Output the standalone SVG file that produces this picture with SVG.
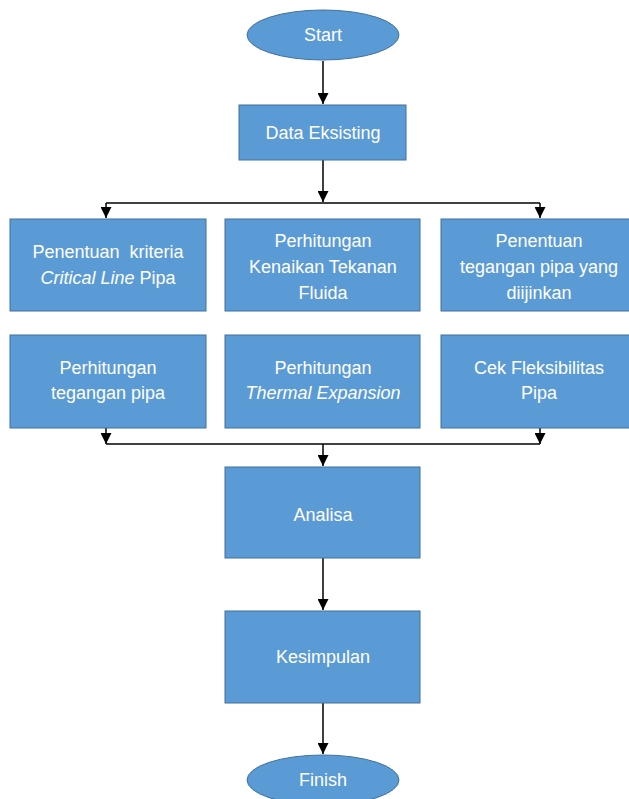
<svg xmlns="http://www.w3.org/2000/svg" width="629" height="799" viewBox="0 0 629 799">
<defs>
<marker id="ah" markerWidth="11" markerHeight="11" refX="11" refY="5.5" orient="auto" markerUnits="userSpaceOnUse">
<path d="M0,0 L11,5.5 L0,11 z" fill="#000"/>
</marker>
<style>
.n{fill:#5B9BD5;stroke:#41719C;stroke-width:1}
.t{font-family:"Liberation Sans",Arial,sans-serif;font-size:18px;fill:#fff;text-anchor:middle}
.i{font-style:italic}
.c{fill:none;stroke:#000;stroke-width:1.5}
</style>
</defs>
<rect width="629" height="799" fill="#fff"/>
<g id="connectors">
<path class="c" d="M323,61 V104" marker-end="url(#ah)"/>
<path class="c" d="M323,160 V202"  marker-end="url(#ah)"/>
<path class="c" d="M106,203 H540"/>
<path class="c" d="M106,203 V218" marker-end="url(#ah)"/>
<path class="c" d="M540,203 V218" marker-end="url(#ah)"/>
<path class="c" d="M106,428 V444" marker-end="url(#ah)"/>
<path class="c" d="M540,428 V444" marker-end="url(#ah)"/>
<path class="c" d="M106,444 H540"/>
<path class="c" d="M323,444 V466" marker-end="url(#ah)"/>
<path class="c" d="M323,558 V610" marker-end="url(#ah)"/>
<path class="c" d="M323,703 V754" marker-end="url(#ah)"/>
</g>
<g id="start"><ellipse class="n" cx="323" cy="35" rx="76" ry="25"/><text class="t" x="323" y="41">Start</text></g>
<g id="data"><rect class="n" x="239" y="105" width="167" height="55"/><text class="t" x="323" y="139">Data Eksisting</text></g>
<g id="kriteria"><rect class="n" x="10" y="219" width="196" height="92"/>
<text class="t" x="108" y="258">Penentuan&#160; kriteria</text>
<text class="t" x="108" y="284"><tspan class="i">Critical Line</tspan> Pipa</text></g>
<g id="kenaikan"><rect class="n" x="225" y="219" width="195" height="92"/>
<text class="t" x="323" y="247">Perhitungan</text>
<text class="t" x="323" y="273">Kenaikan Tekanan</text>
<text class="t" x="323" y="299">Fluida</text></g>
<g id="diijinkan"><rect class="n" x="441" y="219" width="196" height="92"/>
<text class="t" x="539" y="247">Penentuan</text>
<text class="t" x="539" y="273">tegangan pipa yang</text>
<text class="t" x="539" y="299">diijinkan</text></g>
<g id="tegangan"><rect class="n" x="10" y="335" width="196" height="93"/>
<text class="t" x="108" y="374">Perhitungan</text>
<text class="t" x="108" y="399">tegangan pipa</text></g>
<g id="thermal"><rect class="n" x="225" y="335" width="195" height="93"/>
<text class="t" x="323" y="374">Perhitungan</text>
<text class="t i" x="323" y="399">Thermal Expansion</text></g>
<g id="fleksibilitas"><rect class="n" x="441" y="335" width="196" height="93"/>
<text class="t" x="539" y="374">Cek Fleksibilitas</text>
<text class="t" x="539" y="399">Pipa</text></g>
<g id="analisa"><rect class="n" x="225" y="467" width="195" height="91"/><text class="t" x="323" y="521">Analisa</text></g>
<g id="kesimpulan"><rect class="n" x="225" y="611" width="195" height="92"/><text class="t" x="323" y="663">Kesimpulan</text></g>
<g id="finish"><ellipse class="n" cx="323" cy="780" rx="76" ry="25"/><text class="t" x="323" y="786">Finish</text></g>
</svg>
